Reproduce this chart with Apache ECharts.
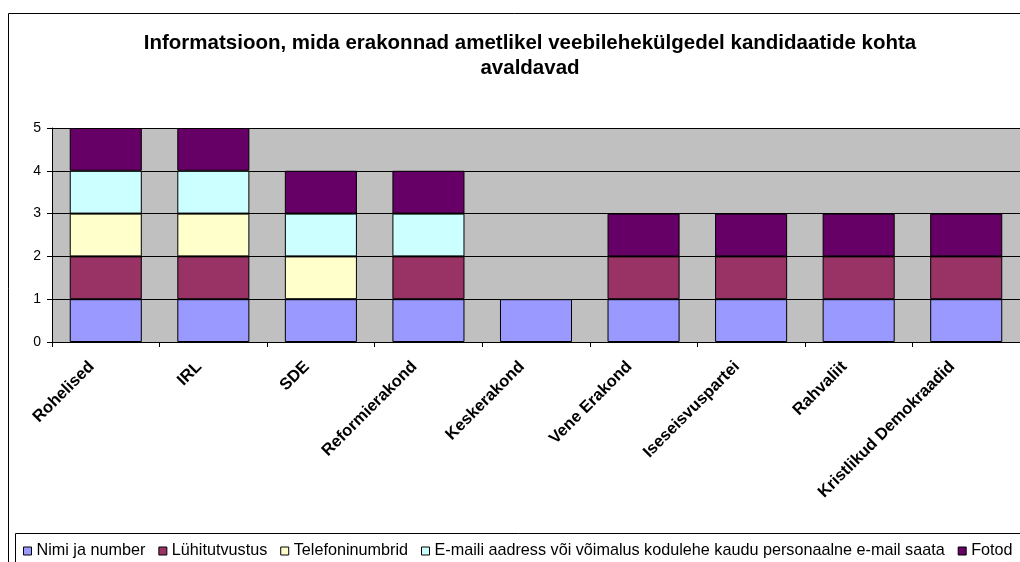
<!DOCTYPE html>
<html lang="et">
<head>
<meta charset="UTF-8">
<title>Informatsioon</title>
<script src="https://cdn.jsdelivr.net/npm/echarts@6/dist/echarts.min.js"></script>
<style>
  html, body { margin: 0; padding: 0; background: #fff; }
  #main { width: 1020px; height: 562px; }
</style>
</head>
<body>
<div id="main"></div>
<script>
// categories (parties)
var parties = ['Rohelised', 'IRL', 'SDE', 'Reformierakond', 'Keskerakond',
               'Vene Erakond', 'Iseseisvuspartei', 'Rahvaliit', 'Kristlikud Demokraadid'];

// one array per kind of information
var nimiJaNumber     = [1, 1, 1, 1, 1, 1, 1, 1, 1];
var luhitutvustus    = [1, 1, 0, 1, 0, 1, 1, 1, 1];
var telefoninumbrid  = [1, 1, 1, 0, 0, 0, 0, 0, 0];
var emailAadress     = [1, 1, 1, 1, 0, 0, 0, 0, 0];
var fotod            = [1, 1, 1, 1, 0, 1, 1, 1, 1];

var seriesNames = ['Nimi ja number', 'Lühitutvustus', 'Telefoninumbrid',
  'E-maili aadress või võimalus kodulehe kaudu personaalne e-mail saata', 'Fotod'];
var seriesData = [nimiJaNumber, luhitutvustus, telefoninumbrid, emailAadress, fotod];
var colors = ['#9999FF', '#993366', '#FFFFCC', '#CCFFFF', '#660066'];

var yTicks = [0, 1, 2, 3, 4, 5];

var font = 'Liberation Sans, Arial, sans-serif';

var myChart = echarts.init(document.getElementById('main'));

var series = seriesData.map(function (d, i) {
  return {
    name: seriesNames[i],
    type: 'bar',
    stack: 'total',
    barCategoryGap: '33%',
    data: d.map(function (v) { return v === 0 ? '-' : v; }),
    itemStyle: { color: colors[i], borderColor: '#000', borderWidth: 1 }
  };
});

var option = {
  animation: false,
  backgroundColor: '#fff',
  title: {
    text: 'Informatsioon, mida erakonnad ametlikel veebilehekülgedel kandidaatide kohta\navaldavad',
    left: 525,
    textAlign: 'center',
    top: 26,
    textStyle: { fontFamily: font, fontSize: 20.5, fontWeight: 'bold', color: '#000', lineHeight: 25 }
  },
  legend: {
    left: 18,
    top: 538,
    icon: 'rect',
    itemWidth: 8,
    itemHeight: 8,
    itemGap: 13,
    itemStyle: { borderColor: '#000', borderWidth: 1 },
    textStyle: { fontFamily: font, fontSize: 16.2, color: '#000' },
    data: seriesNames
  },
  grid: {
    left: 52,
    top: 128,
    width: 970,
    height: 214,
    show: true,
    backgroundColor: '#C0C0C0',
    borderWidth: 0,
    containLabel: false
  },
  xAxis: {
    type: 'category',
    data: parties,
    boundaryGap: true,
    axisLine: { lineStyle: { color: '#000', width: 1 } },
    axisTick: { show: true, length: 5, lineStyle: { color: '#000' } },
    axisLabel: {
      rotate: 45,
      interval: 0,
      margin: 8,
      padding: [0, 20, 0, 0],
      fontFamily: font,
      fontSize: 16.5,
      fontWeight: 'bold',
      color: '#000'
    }
  },
  yAxis: {
    type: 'value',
    min: yTicks[0],
    max: yTicks[yTicks.length - 1],
    interval: 1,
    axisLine: { show: true, lineStyle: { color: '#000', width: 1 } },
    axisTick: { show: true, length: 5, lineStyle: { color: '#000' } },
    axisLabel: { fontFamily: font, fontSize: 14, color: '#000', margin: 11 },
    splitLine: { show: true, lineStyle: { color: '#000', width: 1 } }
  },
  graphic: [
    {
      type: 'rect',
      shape: { x: 8.5, y: 13.5, width: 1100, height: 600 },
      style: { fill: null, stroke: '#000', lineWidth: 1 },
      z: -1
    },
    {
      type: 'rect',
      shape: { x: 15.5, y: 533.5, width: 1100, height: 100 },
      style: { fill: null, stroke: '#000', lineWidth: 1 },
      z: -1
    }
  ],
  series: series
};

myChart.setOption(option);
</script>
</body>
</html>
